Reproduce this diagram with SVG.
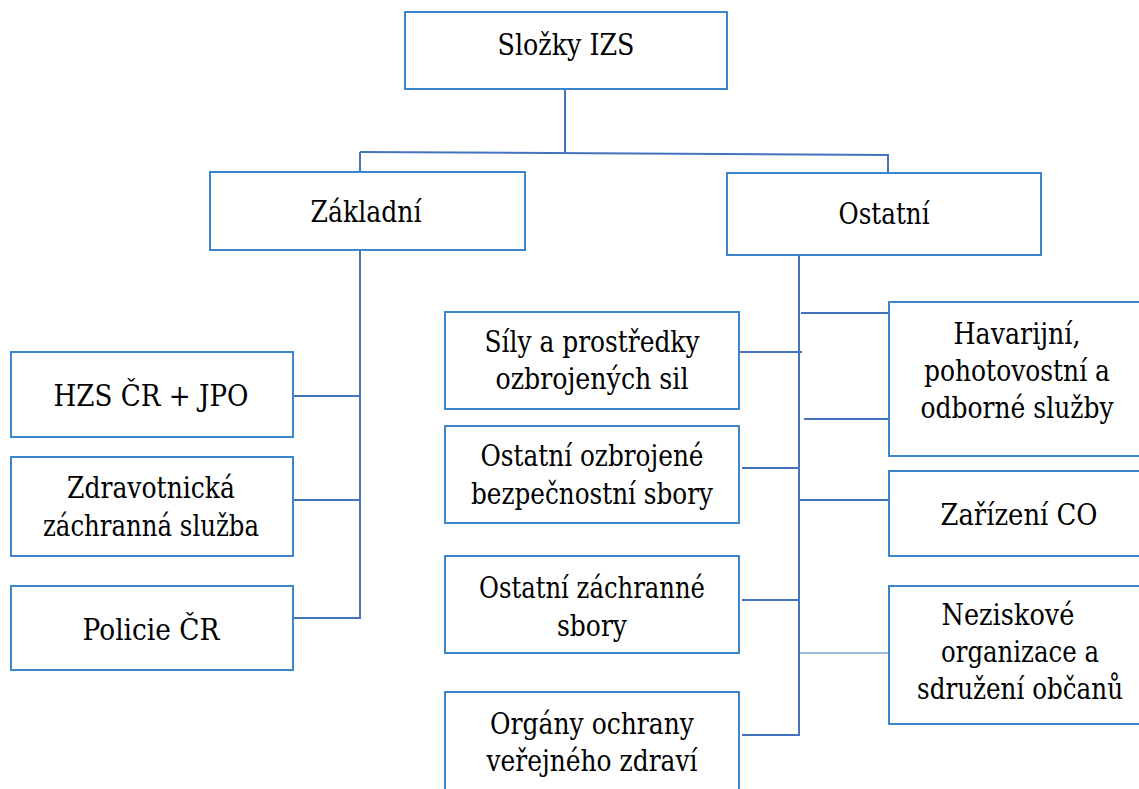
<svg xmlns="http://www.w3.org/2000/svg" width="1139" height="789" viewBox="0 0 1139 789">
<style>
.box{fill:#ffffff;stroke:#3a87cf;stroke-width:2}
.t{font-family:"DejaVu Serif","Liberation Serif","Noto Serif",serif;font-size:30px;fill:#000000;text-anchor:middle}
.c{stroke:#4673bd;stroke-width:2;fill:none}
.cl{stroke:#9dbbe0;stroke-width:2;fill:none}
</style>
<rect width="1139" height="789" fill="#ffffff"/>
<g id="connectors">
<line class="c" x1="565" y1="89" x2="565" y2="153"/>
<line class="c" x1="360" y1="152" x2="889" y2="155"/>
<line class="c" x1="360" y1="152" x2="360" y2="172"/>
<line class="c" x1="888" y1="154" x2="888" y2="173"/>
<line class="c" x1="360" y1="250" x2="360" y2="619"/>
<line class="c" x1="293" y1="396" x2="360" y2="396"/>
<line class="c" x1="293" y1="500" x2="360" y2="500"/>
<line class="c" x1="293" y1="618" x2="361" y2="618"/>
<line class="c" x1="799" y1="255" x2="799" y2="736"/>
<line class="c" x1="801" y1="313" x2="889" y2="313"/>
<line class="c" x1="739" y1="352" x2="802" y2="352"/>
<line class="c" x1="804" y1="419" x2="889" y2="419"/>
<line class="c" x1="742" y1="468" x2="799" y2="468"/>
<line class="c" x1="799" y1="500" x2="889" y2="500"/>
<line class="c" x1="742" y1="600" x2="799" y2="600"/>
<line class="cl" x1="800" y1="653" x2="889" y2="653"/>
<line class="c" x1="742" y1="735" x2="800" y2="735"/>
</g>
<g id="slozky-izs"><rect class="box" x="405" y="12" width="322" height="77"/><text class="t" x="566" y="55" textLength="137" lengthAdjust="spacingAndGlyphs">Složky IZS</text></g>
<g id="zakladni"><rect class="box" x="210" y="172" width="315" height="78"/><text class="t" x="366" y="222" textLength="111" lengthAdjust="spacingAndGlyphs">Základní</text></g>
<g id="ostatni"><rect class="box" x="727" y="173" width="314" height="82"/><text class="t" x="884" y="224" textLength="91" lengthAdjust="spacingAndGlyphs">Ostatní</text></g>
<g id="hzs"><rect class="box" x="11" y="352" width="282" height="85"/><text class="t" x="151" y="406" textLength="195" lengthAdjust="spacingAndGlyphs">HZS ČR + JPO</text></g>
<g id="zdravotnicka"><rect class="box" x="11" y="457" width="282" height="99"/><text class="t" x="151" y="498" textLength="168" lengthAdjust="spacingAndGlyphs">Zdravotnická</text><text class="t" x="151" y="536" textLength="216" lengthAdjust="spacingAndGlyphs">záchranná služba</text></g>
<g id="policie"><rect class="box" x="11" y="586" width="282" height="84"/><text class="t" x="151" y="640" textLength="137" lengthAdjust="spacingAndGlyphs">Policie ČR</text></g>
<g id="sily"><rect class="box" x="445" y="312" width="294" height="97"/><text class="t" x="592" y="352" textLength="215" lengthAdjust="spacingAndGlyphs">Síly a prostředky</text><text class="t" x="592" y="389" textLength="193" lengthAdjust="spacingAndGlyphs">ozbrojených sil</text></g>
<g id="ozbrojene"><rect class="box" x="445" y="426" width="294" height="97"/><text class="t" x="592" y="466" textLength="223" lengthAdjust="spacingAndGlyphs">Ostatní ozbrojené</text><text class="t" x="592" y="504" textLength="242" lengthAdjust="spacingAndGlyphs">bezpečnostní sbory</text></g>
<g id="zachranne"><rect class="box" x="445" y="556" width="294" height="97"/><text class="t" x="592" y="598" textLength="226" lengthAdjust="spacingAndGlyphs">Ostatní záchranné</text><text class="t" x="592" y="636" textLength="70" lengthAdjust="spacingAndGlyphs">sbory</text></g>
<g id="organy"><rect class="box" x="445" y="692" width="294" height="99"/><text class="t" x="592" y="734" textLength="204" lengthAdjust="spacingAndGlyphs">Orgány ochrany</text><text class="t" x="592" y="771" textLength="211" lengthAdjust="spacingAndGlyphs">veřejného zdraví</text></g>
<g id="havarijni"><rect class="box" x="889" y="302" width="252" height="154"/><text class="t" x="1017" y="344" textLength="127" lengthAdjust="spacingAndGlyphs">Havarijní,</text><text class="t" x="1017" y="381" textLength="186" lengthAdjust="spacingAndGlyphs">pohotovostní a</text><text class="t" x="1017" y="418" textLength="193" lengthAdjust="spacingAndGlyphs">odborné služby</text></g>
<g id="zarizeni"><rect class="box" x="889" y="471" width="252" height="85"/><text class="t" x="1019" y="525" textLength="157" lengthAdjust="spacingAndGlyphs">Zařízení CO</text></g>
<g id="neziskove"><rect class="box" x="889" y="586" width="252" height="138"/><text class="t" x="1008" y="625" textLength="133" lengthAdjust="spacingAndGlyphs">Neziskové</text><text class="t" x="1020" y="662" textLength="158" lengthAdjust="spacingAndGlyphs">organizace a</text><text class="t" x="1020" y="699" textLength="206" lengthAdjust="spacingAndGlyphs">sdružení občanů</text></g>
</svg>
